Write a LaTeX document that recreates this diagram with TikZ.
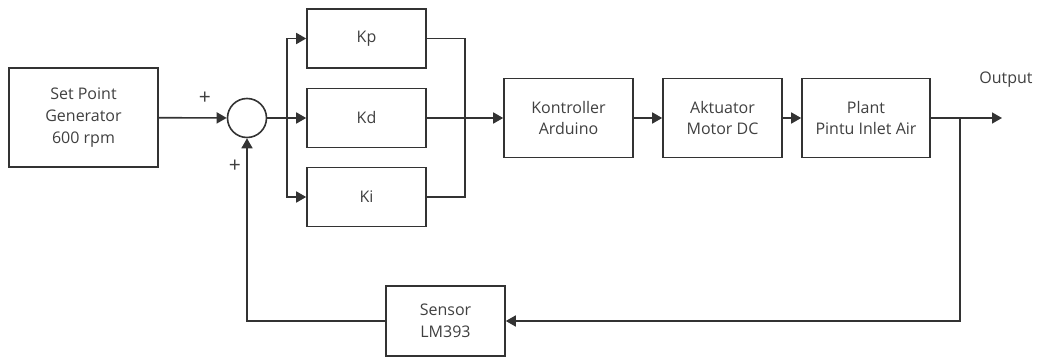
\documentclass[tikz,border=0pt]{standalone}
\usepackage{fontspec}
\setmainfont{Open Sans}
\usetikzlibrary{arrows.meta}
\definecolor{linegray}{HTML}{333333}
\definecolor{textgray}{HTML}{404040}
\tikzset{
  blok/.style={draw=linegray, line width=1.6pt, align=center, inner sep=0pt,
    minimum width=119pt, minimum height=79pt},
  penjumlah/.style={draw=linegray, line width=1.6pt, circle, inner sep=0pt, minimum size=39pt},
  tanda/.style={font=\fontsize{21pt}{24pt}\selectfont},
  garis/.style={draw=linegray, line width=1.6pt}
}
\begin{document}
\begin{tikzpicture}[x=1pt,y=-1pt,>={Triangle[length=10pt,width=11pt]},
    every node/.style={font=\fontsize{16pt}{21.7pt}\selectfont, text=textgray}]
                \useasboundingbox (0,0) rectangle (1041,358);

                \node[blok, minimum width=149pt, minimum height=99pt] (sp) at (83.5,117.5) {Set Point\\Generator\\600 rpm};
                \node[penjumlah] (sum) at (247,118) {};

                \node[blok, minimum height=59pt] (kp) at (366.5,38.5) {Kp};
                \node[blok, minimum height=59pt] (kd) at (366.5,118) {Kd};
                \node[blok, minimum height=59pt] (ki) at (366.5,197) {Ki};

                \node[blok, minimum width=129pt] (ctrl) at (568.5,118) {Kontroller\\Arduino};
                \node[blok] (akt) at (722.5,118) {Aktuator\\Motor DC};
                \node[blok, minimum width=128pt] (plant) at (866,118) {Plant\\Pintu Inlet Air};
                \node[blok, minimum height=70pt] (sensor) at (445.5,321) {Sensor\\LM393};

                \node[tanda] (plus1) at (205,98) {+};
                \node[tanda] (plus2) at (235,166) {+};
                \node (out) at (1006,80) {Output};

                \coordinate (split) at (287,118);
                \coordinate (join) at (465,118);
                \coordinate (branch) at (960,118);
                \coordinate (end) at (1002,118);

                \draw[garis,->] (sp) -- (sum);
                \draw[garis,->] (sum) -- (kd);
                \draw[garis,->] (split) |- (kp);
                \draw[garis,->] (split) |- (ki);

                \draw[garis] (kp) -| (join);
                \draw[garis] (ki) -| (join);
                \draw[garis,->] (kd) -- (ctrl);

                \draw[garis,->] (ctrl) -- (akt);
                \draw[garis,->] (akt) -- (plant);
                \draw[garis,->] (plant) -- (end);

                \draw[garis,->] (branch) |- (sensor);
                \draw[garis,->] (sensor) -| (sum);
            \end{tikzpicture}
\end{document}
